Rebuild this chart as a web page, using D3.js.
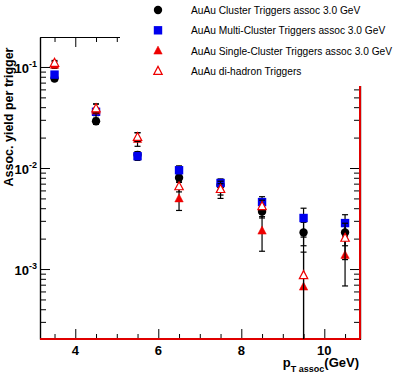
<!DOCTYPE html>
<html>
<head>
<meta charset="utf-8">
<script src="https://cdn.jsdelivr.net/npm/d3@7"></script>
<style>
  body { margin: 0; background: #fff; }
  text { font-family: "Liberation Sans", Arial, sans-serif; }
</style>
</head>
<body>
<div id="chart-area"></div>
<script>
// pT assoc bin centres
const ptBins = [3.5, 4.5, 5.5, 6.5, 7.5, 8.5, 9.5, 10.5];

const clusterVals = [0.077, 0.029, 0.0135, 0.0080, 0.0068, 0.0037, 0.0023, 0.0023];
const clusterErr = [0.004, 0.002, 0.001, 0.0008, 0.0007, 0.0005, 0.0006, 0.0006];

const multiVals = [0.084, 0.036, 0.0131, 0.0095, 0.0071, 0.0046, 0.0032, 0.00285];
const multiErr = [0.005, 0.003, 0.0012, 0.001, 0.0007, 0.0006, 0.0008, 0.0006];

const singleVals = [0.105, 0.037, 0.0194, 0.0050, 0.0062, 0.0024, 0.00067, 0.00138];
const singleErr = [0.008, 0.006, 0.003, 0.0012, 0.0012, 0.0009, 0.0008, 0.0007];

const dihadronVals = [0.11, 0.039, 0.0203, 0.0066, 0.0062, 0.0042, 0.00087, 0.00204];
const dihadronErr = [0.006, 0.004, 0.002, 0.0008, 0.0008, 0.0006, 0.0012, 0.0008];

const legendLabels = [
    'AuAu Cluster Triggers assoc 3.0 GeV',
    'AuAu Multi-Cluster Triggers assoc 3.0 GeV',
    'AuAu Single-Cluster Triggers assoc 3.0 GeV',
    'AuAu di-hadron Triggers'
];

const xMajorTicks = [4, 6, 8, 10];
const xMinorTicks = [3.5, 4.5, 5, 5.5, 6.5, 7, 7.5, 8.5, 9, 9.5, 10.5];
const yMajorTicks = [0.001, 0.01, 0.1];
const yExponents = [-3, -2, -1];

const margin = {left: 40, right: 41, top: 37, bottom: 38};
const W = 401, H = 377;
const width = W - margin.left - margin.right,
    height = H - margin.top - margin.bottom;

const svg = d3.select('#chart-area')
    .append('svg')
    .attr('width', W)
    .attr('height', H);

const g = svg.append('g')
    .attr('transform', 'translate(' + margin.left + ', ' + margin.top + ')');

const x = d3.scaleLinear()
    .domain([3.15, 10.86])
    .range([0, width]);

const y = d3.scaleLog()
    .domain([2.03e-4, 0.198])
    .range([height, 0]);

// minor log ticks 2..9 per decade
const yMinorTicks = [];
[1e-4, 1e-3, 1e-2, 1e-1].forEach(dec => {
    for (let k = 2; k <= 9; k++) {
        const v = k * dec;
        if (v > y.domain()[0] && v < y.domain()[1]) yMinorTicks.push(v);
    }
});

function axisStyle(sel) {
    sel.selectAll('text').remove();
    sel.selectAll('line').attr('stroke', '#000').attr('stroke-width', 1);
    sel.select('.domain').attr('stroke', '#000').attr('stroke-width', 1.2);
}

// left
g.append('g').call(d3.axisLeft(y).tickValues(yMajorTicks).tickSize(-10).tickSizeOuter(0)).call(axisStyle);
g.append('g').call(d3.axisLeft(y).tickValues(yMinorTicks).tickSize(-6).tickSizeOuter(0)).call(axisStyle);
// right
g.append('g').attr('transform', 'translate(' + width + ',0)')
    .call(d3.axisRight(y).tickValues(yMajorTicks).tickSize(-10).tickSizeOuter(0)).call(axisStyle);
g.append('g').attr('transform', 'translate(' + width + ',0)')
    .call(d3.axisRight(y).tickValues(yMinorTicks).tickSize(-6).tickSizeOuter(0)).call(axisStyle);
// top
g.append('g').call(d3.axisTop(x).tickValues(xMajorTicks).tickSize(-10).tickSizeOuter(0)).call(axisStyle);
g.append('g').call(d3.axisTop(x).tickValues(xMinorTicks).tickSize(-5).tickSizeOuter(0)).call(axisStyle);
// bottom
g.append('g').attr('transform', 'translate(0,' + height + ')')
    .call(d3.axisBottom(x).tickValues(xMajorTicks).tickSize(-10).tickSizeOuter(0)).call(axisStyle);
g.append('g').attr('transform', 'translate(0,' + height + ')')
    .call(d3.axisBottom(x).tickValues(xMinorTicks).tickSize(-5).tickSizeOuter(0)).call(axisStyle);

// red lines along bottom and right edge
g.append('line').attr('x1', 0).attr('x2', width).attr('y1', height).attr('y2', height)
    .attr('stroke', '#e00000').attr('stroke-width', 2);
g.append('line').attr('x1', width).attr('x2', width).attr('y1', 0).attr('y2', height)
    .attr('stroke', '#e00000').attr('stroke-width', 2);

// tick labels
g.selectAll('.xlab').data(xMajorTicks).enter().append('text')
    .attr('x', d => x(d))
    .attr('y', height + 16)
    .attr('text-anchor', 'middle')
    .attr('font-size', '13px')
    .attr('font-weight', 'bold')
    .text(d => d);

yMajorTicks.forEach((v, i) => {
    const t = g.append('text')
        .attr('x', -3)
        .attr('y', y(v) + 6)
        .attr('text-anchor', 'end')
        .attr('font-size', '13px')
        .attr('font-weight', 'bold');
    t.append('tspan').text('10');
    t.append('tspan').attr('font-size', '9px').attr('dy', -6).text(yExponents[i]);
});

// axis titles
svg.append('text')
    .attr('transform', 'translate(13,' + 117 + ') rotate(-90)')
    .attr('text-anchor', 'middle')
    .attr('font-size', '12.5px')
    .attr('font-weight', 'bold')
    .text('Assoc. yield per trigger');

const xt = svg.append('text')
    .attr('x', 359)
    .attr('y', 367)
    .attr('text-anchor', 'end')
    .attr('font-size', '13px')
    .attr('font-weight', 'bold');
xt.append('tspan').text('p');
xt.append('tspan').attr('font-size', '9px').attr('dy', 5).text('T assoc');
xt.append('tspan').attr('dy', -5).text('(GeV)');

// series
const series = [
    {vals: clusterVals, err: clusterErr, shape: 'circle', color: '#000', capColor: '#000'},
    {vals: multiVals, err: multiErr, shape: 'square', color: '#0000ee', capColor: '#000'},
    {vals: singleVals, err: singleErr, shape: 'triangle', color: '#ee0000', capColor: '#000', fill: true},
    {vals: dihadronVals, err: dihadronErr, shape: 'triangle', color: '#ee0000', capColor: '#000', fill: false}
];

function drawMarker(sel, s) {
    if (s.shape === 'circle') {
        sel.append('circle').attr('r', 4.2).attr('fill', s.color);
    } else if (s.shape === 'square') {
        sel.append('rect').attr('x', -4.2).attr('y', -4.2).attr('width', 8.4).attr('height', 8.4).attr('fill', s.color);
    } else {
        sel.append('path').attr('d', 'M0,-4.5L4.2,3.5L-4.2,3.5Z')
            .attr('fill', s.fill ? s.color : '#fff')
            .attr('stroke', s.color)
            .attr('stroke-width', s.fill ? 0.5 : 1.2);
    }
}

const plot = g.append('g');
const clampY = v => Math.min(height, Math.max(0, v));

series.forEach(s => {
    const data = ptBins.map((p, i) => ({x: p, v: s.vals[i], e: s.err[i]}));
    const bars = plot.append('g');
    data.forEach(d => {
        const cx = x(d.x);
        const yHi = clampY(y(d.v + d.e));
        const yLo = d.v - d.e > y.domain()[0] ? y(d.v - d.e) : height;
        bars.append('line').attr('x1', cx).attr('x2', cx).attr('y1', yHi).attr('y2', yLo)
            .attr('stroke', '#000').attr('stroke-width', 1.2);
        bars.append('line').attr('x1', cx - 3).attr('x2', cx + 3).attr('y1', yHi).attr('y2', yHi)
            .attr('stroke', s.capColor).attr('stroke-width', 1.2);
        if (yLo < height) {
            bars.append('line').attr('x1', cx - 3).attr('x2', cx + 3).attr('y1', yLo).attr('y2', yLo)
                .attr('stroke', s.capColor).attr('stroke-width', 1.2);
        }
    });
    plot.append('g').selectAll('g').data(data).enter().append('g')
        .attr('transform', d => 'translate(' + x(d.x) + ',' + y(d.v) + ')')
        .each(function() { drawMarker(d3.select(this), s); });
});

// legend (white box covers the top right of the frame)
const legend = svg.append('g');
legend.append('rect')
    .attr('x', 120).attr('y', 0)
    .attr('width', W - 120).attr('height', 86)
    .attr('fill', '#fff');
legendLabels.forEach((label, i) => {
    const row = legend.append('g').attr('transform', 'translate(0,' + (10 + i * 20.3) + ')');
    const m = row.append('g').attr('transform', 'translate(158,0)');
    drawMarker(m, series[i]);
    row.append('text')
        .attr('x', 191)
        .attr('y', 4)
        .attr('font-size', '10.2px')
        .text(label);
});
</script>
</body>
</html>
